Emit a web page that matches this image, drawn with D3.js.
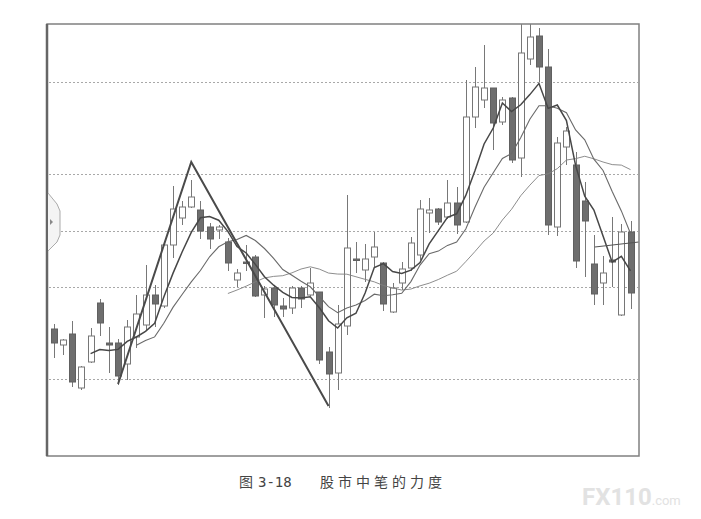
<!DOCTYPE html>
<html><head><meta charset="utf-8">
<script src="https://cdn.jsdelivr.net/npm/d3@7"></script>
<style>html,body{margin:0;padding:0;background:#fff;}svg{display:block;}</style>
</head><body>
<script>
// ---- data (price units) ----
const days  = d3.range(1, 65);
const open  = [17.1,15.5,16.6,11.2,13.8,19.7,15.7,15.7,13.6,16.3,17.5,20.5,19.4,25.5,28.2,29.3,29.0,27.3,27.0,25.8,22.0,23.8,24.3,20.5,21.2,19.4,19.2,21.2,20.5,20.8,14.8,12.7,17.4,24.1,23.0,24.3,23.7,18.8,21.7,23.2,24.5,28.7,29.1,28.3,29.7,27.8,38.3,40.0,41.2,37.8,40.2,34.2,44.1,46.4,43.3,27.3,35.3,33.5,29.9,23.6,21.7,24.0,18.5,26.8];
const high  = [17.6,16.1,17.9,13.4,17.2,20.1,17.3,16.1,18.0,20.5,23.5,21.5,25.6,31.4,29.9,32.0,29.9,27.7,27.5,26.2,23.1,25.5,24.5,21.4,21.5,20.2,21.4,21.4,23.2,20.8,15.3,19.5,30.5,25.8,25.6,26.8,23.8,21.7,23.8,26.3,30.0,30.2,29.2,32.0,31.3,42.0,43.3,45.5,41.2,40.3,40.3,48.0,48.0,47.2,45.1,36.3,37.3,34.8,31.8,26.5,24.4,28.3,27.6,27.9];
const low   = [14.2,14.5,11.3,11.0,13.7,16.4,12.7,11.5,12.0,15.2,17.0,17.3,19.2,24.2,27.5,29.2,26.1,25.1,26.1,22.9,21.3,22.9,20.3,18.2,18.3,18.3,18.6,19.2,20.4,13.6,9.2,11.0,16.5,22.7,21.8,23.3,18.9,18.7,21.0,22.9,24.0,26.7,27.5,28.1,26.6,27.7,37.2,39.2,35.0,37.5,33.7,32.3,43.5,41.8,26.5,26.4,33.5,23.2,22.3,19.5,19.5,21.3,18.4,19.1];
const close = [15.7,16.0,11.8,13.3,16.4,17.7,15.5,12.4,17.3,18.6,20.5,19.6,25.5,29.1,29.3,30.3,26.9,26.1,27.3,23.7,22.7,23.7,20.4,21.1,19.5,19.1,21.2,20.1,21.7,14.0,12.6,17.6,25.2,24.0,24.1,25.3,19.6,21.2,23.1,25.7,29.1,29.0,27.8,29.7,27.5,38.3,41.3,41.2,37.7,40.0,34.0,44.7,46.3,43.3,27.5,35.7,36.9,23.9,27.9,20.6,22.7,23.8,26.8,20.7];
const maPeriods = [5, 10, 20];
const gridValues = [41.8, 32.6, 26.9, 21.3, 12.1];
// hand-drawn "bi" (stroke) line: [day index, price]
const biIndex = [7, 15, 30];
const biPrice = [11.6, 33.8, 9.4];
// short horizontal reference line at the right end
const refIndex = [59.1, 63.9];
const refPrice = [25.3, 25.8];
const captionLabel = "图";
const captionNumber = "3-18";
const captionTitle = "股市中笔的力度";

// ---- layout ----
const W = 701, H = 519;
const plot = {l: 47, t: 24, r: 639, b: 456};
const svg = d3.select("body").append("svg").attr("width", W).attr("height", H);

const x = d3.scaleLinear().domain([0, 63]).range([54, 630.5]);
const y = d3.scaleLinear().domain([4.4, 47.6]).range([plot.b, plot.t]);
const bw = 7;

svg.append("defs").append("clipPath").attr("id", "clip")
  .append("rect").attr("x", plot.l).attr("y", plot.t)
  .attr("width", plot.r - plot.l).attr("height", plot.b - plot.t);

// gridlines
svg.append("g").selectAll("line").data(gridValues).join("line")
  .attr("x1", plot.l + 2).attr("x2", plot.r - 1)
  .attr("y1", d => Math.round(y(d)) + 0.5).attr("y2", d => Math.round(y(d)) + 0.5)
  .attr("stroke", "#a8a8a8").attr("stroke-width", 1).attr("stroke-dasharray", "2,2");

const g = svg.append("g").attr("clip-path", "url(#clip)");
const candles = days.map((d, i) => ({i, o: open[i], h: high[i], l: low[i], c: close[i]}));

// wicks
g.append("g").selectAll("line").data(candles).join("line")
  .attr("x1", d => Math.round(x(d.i)) + 0.5).attr("x2", d => Math.round(x(d.i)) + 0.5)
  .attr("y1", d => y(d.h)).attr("y2", d => y(d.l))
  .attr("stroke", "#787878").attr("stroke-width", 1);

// bodies
g.append("g").selectAll("rect").data(candles).join("rect")
  .attr("x", d => Math.round(x(d.i)) - bw / 2 + 1)
  .attr("width", bw - 1)
  .attr("y", d => y(Math.max(d.o, d.c)))
  .attr("height", d => Math.max(1.5, Math.abs(y(d.o) - y(d.c))))
  .attr("fill", d => d.c >= d.o ? "#ffffff" : "#6e6e6e")
  .attr("stroke", d => d.c >= d.o ? "#767676" : "#606060")
  .attr("stroke-width", 1);

// moving averages
function ma(n) {
  const out = [];
  for (let i = n - 1; i < close.length; i++) {
    out.push({i, v: d3.mean(close.slice(i - n + 1, i + 1))});
  }
  return out;
}
const line = d3.line().x(d => x(d.i)).y(d => y(d.v));
const maStyle = {5: ["#474747", 1.5], 10: ["#6a6a6a", 1.1], 20: ["#808080", 0.9]};
maPeriods.slice().reverse().forEach(n => {
  g.append("path").datum(ma(n)).attr("d", line)
    .attr("fill", "none").attr("stroke", maStyle[n][0]).attr("stroke-width", maStyle[n][1]);
});

// "bi" line
g.append("path").datum(biIndex.map((d, k) => ({i: d, v: biPrice[k]}))).attr("d", line)
  .attr("fill", "none").attr("stroke", "#4a4a4a").attr("stroke-width", 2).attr("stroke-linejoin", "miter");

// right-end reference line
g.append("path").datum(refIndex.map((d, k) => ({i: d, v: refPrice[k]}))).attr("d", line)
  .attr("fill", "none").attr("stroke", "#555").attr("stroke-width", 1.2);

// frame
svg.append("rect").attr("x", plot.l).attr("y", plot.t)
  .attr("width", plot.r - plot.l).attr("height", plot.b - plot.t)
  .attr("fill", "none").attr("stroke", "#808080").attr("stroke-width", 1.5);
svg.append("line").attr("x1", plot.l).attr("x2", plot.l).attr("y1", plot.t).attr("y2", plot.b)
  .attr("stroke", "#666").attr("stroke-width", 2.5);

// left side tab decoration
svg.append("path")
  .attr("d", "M48,193 L57,204 L60,211 L60,235 L57,242 L48,251")
  .attr("fill", "#f4f4f4").attr("stroke", "#aaa").attr("stroke-width", 1);
svg.append("path").attr("d", "M50,219 L53,222 L50,225 Z").attr("fill", "#888");

// caption
const cap = svg.append("text").attr("y", 487)
  .attr("font-family", "'Noto Sans CJK SC', sans-serif").attr("font-size", 14).attr("fill", "#444");
cap.append("tspan").attr("x", 239).text(captionLabel);
cap.append("tspan").attr("x", 258).attr("font-family", "'DejaVu Sans Mono', monospace").attr("font-size", 14).text(captionNumber);
cap.append("tspan").attr("x", 320).attr("letter-spacing", 4).text(captionTitle);

// watermark
const wm = svg.append("text").attr("x", 582).attr("y", 505)
  .attr("font-family", "Roboto, sans-serif").attr("fill", "#e2e2e2");
wm.append("tspan").attr("font-size", 24).attr("font-weight", "bold").text("FX110");
wm.append("tspan").attr("font-size", 13).text(".com");
</script>
</body></html>
